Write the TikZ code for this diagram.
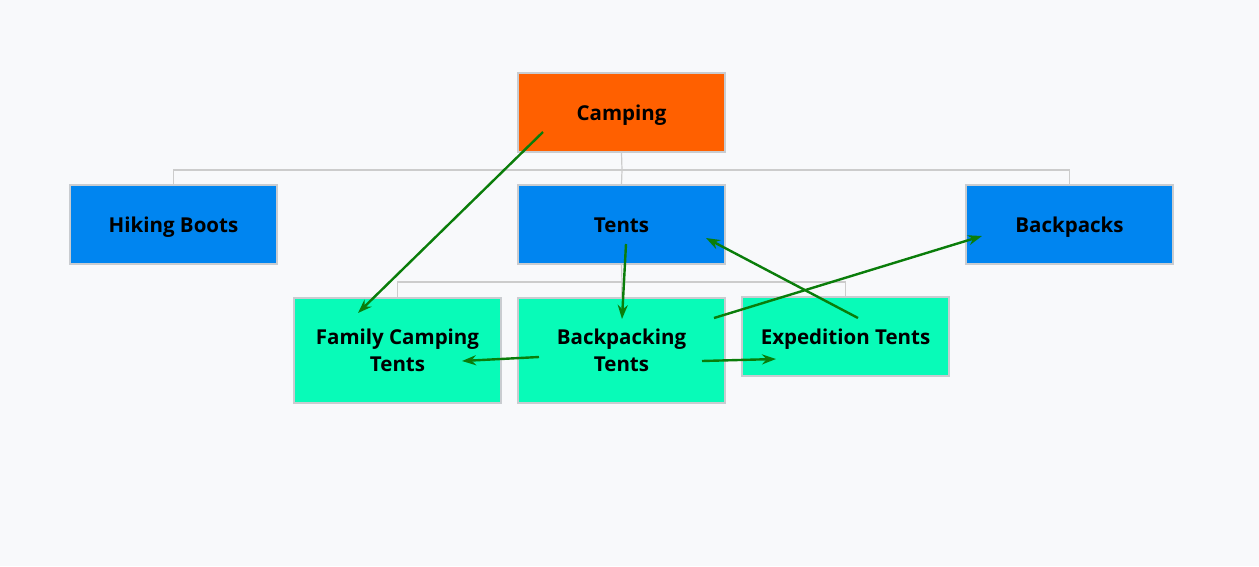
\documentclass[tikz,border=0pt]{standalone}
\usepackage{fontspec}
\setmainfont{Open Sans}
\usetikzlibrary{arrows.meta}
\definecolor{bg}{HTML}{F8F9FB}
\definecolor{orangeC}{HTML}{FF6000}
\definecolor{blueC}{HTML}{0085F0}
\definecolor{tealC}{HTML}{08FBB8}
\definecolor{edgeC}{HTML}{C9CCD0}
\definecolor{treeC}{HTML}{CCCCCC}
\definecolor{arrC}{HTML}{0A7D0A}
\tikzset{
  box/.style={draw=edgeC, line width=1.5pt, minimum width=207pt, minimum height=79pt,
    inner sep=0pt, align=center, font=\bfseries\fontsize{20.5}{27}\selectfont, text=black},
  oneline/.style={text height=21pt, text depth=5pt},
  rootbox/.style={box, oneline, fill=orangeC},
  catbox/.style={box, oneline, fill=blueC},
  subbox/.style={box, fill=tealC, minimum height=105pt},
  subboxone/.style={box, oneline, fill=tealC},
  tree/.style={draw=treeC, line width=1.2pt},
  rel/.style={draw=arrC, line width=2.4pt, -{Stealth[length=14pt,width=10pt]}}
}
\begin{document}
\begin{tikzpicture}[x=1pt,y=-1pt]
\fill[bg] (0,0) rectangle (1259,566);
\useasboundingbox (0,0) rectangle (1259,566);
% tree junctions
\coordinate (j1) at (622,170);
\coordinate (j2) at (622,282);
\node[rootbox] (camping) at (621.5,112.5) {Camping};
\node[catbox] (hiking) at (173.5,224.5) {Hiking Boots};
\node[catbox] (tents) at (621.5,224.5) {Tents};
\node[catbox] (backpacks) at (1069.5,224.5) {Backpacks};
\node[subbox] (family) at (397.5,350.5) {Family Camping\\Tents};
\node[subbox] (backpacking) at (621.5,350.5) {Backpacking\\Tents};
\node[subboxone] (expedition) at (845.5,336.5) {Expedition Tents};
\path[tree] (camping.south) -- (j1);
\path[tree] (j1) -| (hiking.north);
\path[tree] (j1) -| (backpacks.north);
\path[tree] (j1) -- (tents.north);
\path[tree] (tents.south) -- (j2);
\path[tree] (j2) -| (family.north);
\path[tree] (j2) -| (expedition.north);
\path[tree] (j2) -- (backpacking.north);
% redraw nodes on top of tree lines
\node[rootbox] at (camping) {Camping};
\node[catbox] at (hiking) {Hiking Boots};
\node[catbox] at (tents) {Tents};
\node[catbox] at (backpacks) {Backpacks};
\node[subbox] at (family) {Family Camping\\Tents};
\node[subbox] at (backpacking) {Backpacking\\Tents};
\node[subboxone] at (expedition) {Expedition Tents};
% green relation arrows
\coordinate (a1s) at (543,132); \coordinate (a1e) at (358,313);
\coordinate (a2s) at (626,244); \coordinate (a2e) at (622,319);
\coordinate (a3s) at (858,318); \coordinate (a3e) at (706,238);
\coordinate (a4s) at (714,318); \coordinate (a4e) at (982,236);
\coordinate (a5s) at (539,357); \coordinate (a5e) at (462,361);
\coordinate (a6s) at (702,361); \coordinate (a6e) at (776,359);
\draw[rel] (a1s) -- (a1e);
\draw[rel] (a2s) -- (a2e);
\draw[rel] (a3s) -- (a3e);
\draw[rel] (a4s) -- (a4e);
\draw[rel] (a5s) -- (a5e);
\draw[rel] (a6s) -- (a6e);
\end{tikzpicture}
\end{document}
